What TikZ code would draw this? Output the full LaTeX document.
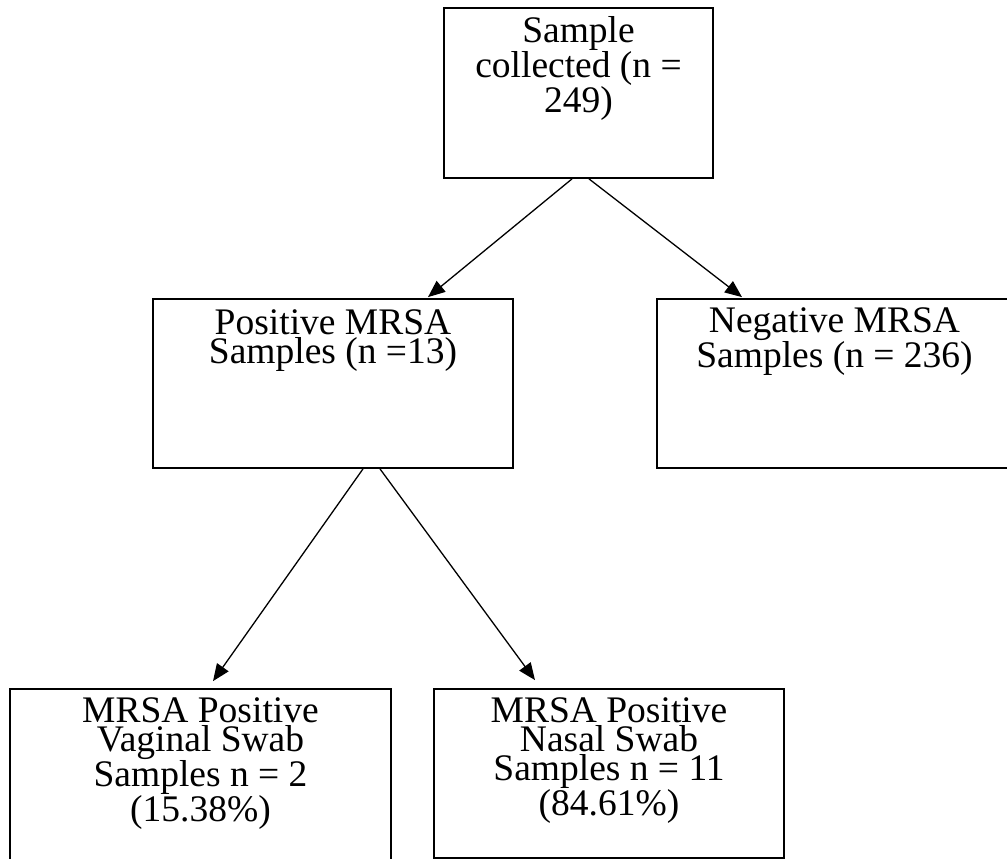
\documentclass[tikz,border=0pt]{standalone}
\usepackage{fontspec}
\setmainfont{Liberation Serif}
\usetikzlibrary{arrows.meta}
\tikzset{
  box/.style={draw=black, line width=1.8pt, rectangle, inner sep=0pt, fill=white},
  boxtext/.style={anchor=north, align=center, inner sep=0pt, font=\fontsize{37.5}{29}\selectfont},
  conn/.style={line width=1.3pt, -{Triangle[length=17pt,width=14pt]}}
}
\newcommand{\firstline}{\rule{0pt}{27pt}}
\begin{document}
\begin{tikzpicture}[x=1pt,y=-1pt]
\useasboundingbox (0,0) rectangle (1007,859);
\clip (0,0) rectangle (1007,859);
\fill[white] (0,0) rectangle (1007,859);
% boxes
\node[box, minimum width=269pt, minimum height=170pt] (top) at (578.5,93) {};
\node[box, minimum width=360pt, minimum height=169pt] (pos) at (333,383.5) {};
\node[box, minimum width=355pt, minimum height=169pt] (neg) at (834.5,383.5) {};
\node[box, minimum width=381pt, minimum height=175pt] (vag) at (200.5,776.5) {};
\node[box, minimum width=350pt, minimum height=169pt] (nas) at (609,773.5) {};
% texts
\node[boxtext] (toptext) at ([yshift=-8pt]top.north) {\firstline Sample\\collected (n =\\249)};
\node[boxtext] (postext) at ([yshift=-9pt]pos.north) {\firstline Positive MRSA\\Samples (n =13)};
\node[boxtext] (negtext) at ([yshift=-7pt]neg.north) {\firstline Negative MRSA\\Samples (n = 236)};
\node[boxtext] (vagtext) at ([yshift=-7pt]vag.north) {\firstline MRSA Positive\\Vaginal Swab\\Samples n = 2\\(15.38\%)};
\node[boxtext] (nastext) at ([yshift=-7pt]nas.north) {\firstline MRSA Positive\\Nasal Swab\\Samples n = 11\\(84.61\%)};
% connectors
\draw[conn] ([xshift=-6.5pt]top.south) -- ([xshift=95pt,yshift=1pt]pos.north);
\draw[conn] ([xshift=10.5pt]top.south) -- ([xshift=-92.5pt,yshift=1pt]neg.north);
\draw[conn] ([xshift=30pt]pos.south) -- ([xshift=12.5pt,yshift=7pt]vag.north);
\draw[conn] ([xshift=47pt]pos.south) -- ([xshift=-74pt,yshift=8pt]nas.north);
\end{tikzpicture}
\end{document}
